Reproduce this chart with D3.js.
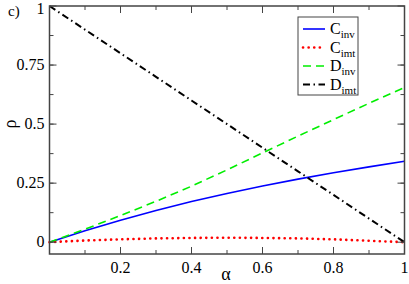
<!DOCTYPE html>
<html>
<head>
<meta charset="utf-8">
<script src="https://cdn.jsdelivr.net/npm/d3@7"></script>
<style>
  body { margin: 0; background: #fff; }
</style>
</head>
<body>
<div id="chart"></div>
<script>
var svgWidth = 409;
var svgHeight = 284;

var margin = { top: 6, right: 4.5, bottom: 30, left: 49.5 };
var width = svgWidth - margin.left - margin.right;
var height = svgHeight - margin.top - margin.bottom;

// data
var alpha = [0, 0.1, 0.2, 0.3, 0.4, 0.5, 0.6, 0.7, 0.8, 0.9, 1.0];
var cInv = [0, 0.048, 0.093, 0.134, 0.172, 0.206, 0.238, 0.267, 0.294, 0.319, 0.343];
var cImt = [0, 0.007, 0.012, 0.016, 0.018, 0.019, 0.018, 0.016, 0.012, 0.006, 0];
var dInv = [0, 0.055, 0.113, 0.173, 0.237, 0.306, 0.378, 0.449, 0.519, 0.588, 0.655];
var dImt = [1, 0.9, 0.8, 0.7, 0.6, 0.5, 0.4, 0.3, 0.2, 0.1, 0];

var xTicks = [0.2, 0.4, 0.6, 0.8, 1];
var yTicks = [0, 0.25, 0.5, 0.75, 1];
var legendNames = [["C", "inv"], ["C", "imt"], ["D", "inv"], ["D", "imt"]];

var series = [
  { values: cInv, color: "#0000ff", dash: null, width: 1.6, cap: "butt" },
  { values: cImt, color: "#ff0000", dash: "0.1,5.5", width: 2.6, cap: "round" },
  { values: dInv, color: "#00ee00", dash: "8,5", width: 1.6, cap: "butt" },
  { values: dImt, color: "#000000", dash: "7,3.5,1.5,3.5", width: 2, cap: "butt" }
];

var serif = "'Liberation Serif', 'Times New Roman', Times, serif";

var svg = d3.select("#chart")
  .append("svg")
  .attr("width", svgWidth)
  .attr("height", svgHeight)
  .style("font-family", serif);

var chartGroup = svg.append("g")
  .attr("transform", `translate(${margin.left}, ${margin.top})`);

var xScale = d3.scaleLinear().domain([0, 1]).range([0, width]);
var yScale = d3.scaleLinear().domain([-0.05, 1]).range([height, 0]);

// lines
var line = d3.line()
  .x((d, i) => xScale(alpha[i]))
  .y(d => yScale(d));

series.forEach(s => {
  chartGroup.append("path")
    .datum(s.values)
    .attr("d", line)
    .attr("fill", "none")
    .attr("stroke", s.color)
    .attr("stroke-width", s.width)
    .attr("stroke-linecap", s.cap)
    .attr("stroke-dasharray", s.dash);
});

// ticks, inward on all sides
var xMinor = d3.range(0.1, 1, 0.1);
var yMinor = d3.range(0.125, 1, 0.125).concat([0]);
var tickColor = "#444";

function ticks(vals, len, isX) {
  vals.forEach(v => {
    if (isX) {
      var x = xScale(v);
      chartGroup.append("line").attr("x1", x).attr("x2", x).attr("y1", height).attr("y2", height - len);
      chartGroup.append("line").attr("x1", x).attr("x2", x).attr("y1", 0).attr("y2", len);
    } else {
      var y = yScale(v);
      chartGroup.append("line").attr("x1", 0).attr("x2", len).attr("y1", y).attr("y2", y);
      chartGroup.append("line").attr("x1", width).attr("x2", width - len).attr("y1", y).attr("y2", y);
    }
  });
}
ticks(xMinor, 4, true);
ticks(xTicks, 7, true);
ticks(yMinor, 4, false);
ticks(yTicks, 7, false);
chartGroup.selectAll("line").attr("stroke", tickColor).attr("stroke-width", 1);

// frame
chartGroup.append("rect")
  .attr("width", width)
  .attr("height", height)
  .attr("fill", "none")
  .attr("stroke", tickColor)
  .attr("stroke-width", 1.5);

// tick labels
chartGroup.selectAll(".xlab")
  .data(xTicks)
  .enter()
  .append("text")
  .attr("x", d => xScale(d))
  .attr("y", height + 19)
  .attr("text-anchor", "middle")
  .style("font-size", "16px")
  .text(d => d3.format("")(d));

chartGroup.selectAll(".ylab")
  .data(yTicks)
  .enter()
  .append("text")
  .attr("x", -5)
  .attr("y", d => Math.max(yScale(d) + 5, 8))
  .attr("text-anchor", "end")
  .style("font-size", "16px")
  .text(d => d3.format("")(d));

// axis titles
chartGroup.append("text")
  .attr("x", width / 2 - 1)
  .attr("y", height + 26)
  .attr("text-anchor", "middle")
  .style("font-size", "18px")
  .text("α");

chartGroup.append("text")
  .attr("transform", `translate(${-margin.left + 16}, ${yScale(0.5)}) rotate(-90)`)
  .attr("text-anchor", "middle")
  .style("font-size", "18px")
  .text("ρ");

svg.append("text")
  .attr("x", 8)
  .attr("y", 16)
  .style("font-size", "15px")
  .text("c)");

// legend
var legend = svg.append("g").attr("transform", "translate(298, 17)");
legend.append("rect")
  .attr("width", 60)
  .attr("height", 78)
  .attr("fill", "#fff")
  .attr("stroke", tickColor)
  .attr("stroke-width", 1);

series.forEach((s, i) => {
  var y = 12 + i * 18.5;
  legend.append("line")
    .attr("x1", 5).attr("x2", 27)
    .attr("y1", y).attr("y2", y)
    .attr("stroke", s.color)
    .attr("stroke-width", s.width)
    .attr("stroke-linecap", s.cap)
    .attr("stroke-dasharray", s.dash);
  var t = legend.append("text")
    .attr("x", 32)
    .attr("y", y + 5)
    .style("font-size", "16px");
  t.append("tspan").text(legendNames[i][0]);
  t.append("tspan").attr("dy", 4).style("font-size", "11px").text(legendNames[i][1]);
});
</script>
</body>
</html>
